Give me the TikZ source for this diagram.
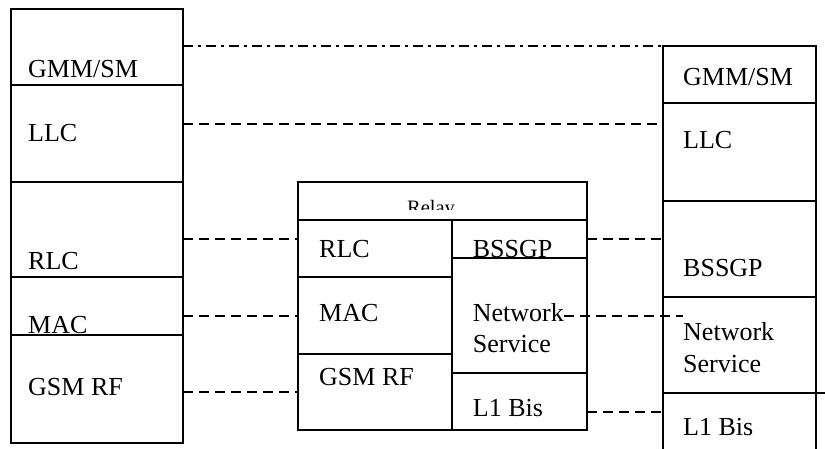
\documentclass[tikz,border=0pt]{standalone}
\usepackage{fontspec}
\setmainfont{Liberation Serif}
\begin{document}
\begin{tikzpicture}[x=1pt,y=-1pt,
  layer/.style={draw, line width=1.4pt, anchor=north west, inner sep=0pt, outer sep=0pt},
  lbl/.style={anchor=base west, inner sep=0pt, font=\fontsize{26}{30}\selectfont},
  link/.style={line width=1.5pt, dash pattern=on 10pt off 6pt},
  peer/.style={line width=1.5pt, dash pattern=on 10pt off 5pt on 3pt off 5pt}]
\useasboundingbox (0,0) rectangle (825,448);
\clip (0,0) rectangle (825,448);

% MS protocol stack
\node[layer, minimum width=172pt, minimum height=76pt]  (lGMM) at (11,9)   {};
\node[layer, minimum width=172pt, minimum height=97pt]  (lLLC) at (11,85)  {};
\node[layer, minimum width=172pt, minimum height=95pt]  (lRLC) at (11,182) {};
\node[layer, minimum width=172pt, minimum height=58pt]  (lMAC) at (11,277) {};
\node[layer, minimum width=172pt, minimum height=108pt] (lGSM) at (11,335) {};

\node[lbl] (tlGMM) at (28,77.3)  {GMM/SM};
\node[lbl] (tlLLC) at (28,141.7) {LLC};
\node[lbl] (tlRLC) at (28,269.3) {RLC};
\node[lbl] (tlMAC) at (28,333.3) {MAC};
\node[lbl] (tlGSM) at (28,395)   {GSM RF};

% BSS protocol stack
\node[layer, minimum width=289pt, minimum height=38pt]  (mRelay) at (298,182) {};
\node[layer, minimum width=154pt, minimum height=57pt]  (mRLC)   at (298,220) {};
\node[layer, minimum width=154pt, minimum height=77pt]  (mMAC)   at (298,277) {};
\node[layer, minimum width=154pt, minimum height=76pt]  (mGSM)   at (298,354) {};
\node[layer, minimum width=135pt, minimum height=38pt]  (mBSSGP) at (452,220) {};
\node[layer, minimum width=135pt, minimum height=115pt] (mNS)    at (452,258) {};
\node[layer, minimum width=135pt, minimum height=57pt]  (mL1)    at (452,373) {};

\begin{scope}
  \clip (298,182) rectangle (587,209.5);
  \node[anchor=base, inner sep=0pt, font=\fontsize{20.5}{24}\selectfont] (tRelay) at (431,214) {Relay};
\end{scope}
\node[lbl] (tmRLC)   at (319,257)   {RLC};
\node[lbl] (tmMAC)   at (319,321.7) {MAC};
\node[lbl] (tmGSM)   at (319,385)   {GSM RF};
\node[lbl] (tmBSSGP) at (472.7,257)   {BSSGP};
\node[lbl] (tmNetw)  at (472.7,321.7) {Network};
\node[lbl] (tmServ)  at (472.7,352.7) {Service};
\node[lbl] (tmL1)    at (472.7,416.7) {L1 Bis};

% SGSN protocol stack
\node[layer, minimum width=153pt, minimum height=57pt] (rGMM)   at (663,46)  {};
\node[layer, minimum width=153pt, minimum height=98pt] (rLLC)   at (663,103) {};
\node[layer, minimum width=153pt, minimum height=96pt] (rBSSGP) at (663,201) {};
\node[layer, minimum width=153pt, minimum height=96pt] (rNS)    at (663,297) {};
\node[layer, minimum width=153pt, minimum height=80pt] (rL1)    at (663,393) {};
\coordinate (edge) at (825,393);
\draw[line width=1.4pt] (rL1.north east) -- (edge);

\node[lbl] (trGMM)   at (683,85)  {GMM/SM};
\node[lbl] (trLLC)   at (683,148) {LLC};
\node[lbl] (trBSSGP) at (683,276) {BSSGP};
\node[lbl] (trNetw)  at (683,340) {Network};
\node[lbl] (trServ)  at (683,372) {Service};
\node[lbl] (trL1)    at (683,435) {L1 Bis};

% peer-to-peer links
\draw[peer] (lGMM.east |- 0,46) -- (rGMM.north west);
\draw[link] (lLLC.east |- 0,124) -- (rLLC.west |- 0,124);
\draw[link] (lRLC.east |- 0,239) -- (mRLC.west |- 0,239);
\draw[link] (lMAC.east |- 0,316) -- (mMAC.west |- 0,316);
\draw[link] (lGSM.east |- 0,392) -- (mGSM.west |- 0,392);
\draw[link] (mBSSGP.east |- 0,239) -- (rBSSGP.west |- 0,239);
\coordinate (nsEnd) at (683,316);
\draw[link] (tmNetw.east |- 0,316) -- (nsEnd);
\draw[link] (mL1.east |- 0,412) -- (rL1.west |- 0,412);
\end{tikzpicture}
\end{document}
